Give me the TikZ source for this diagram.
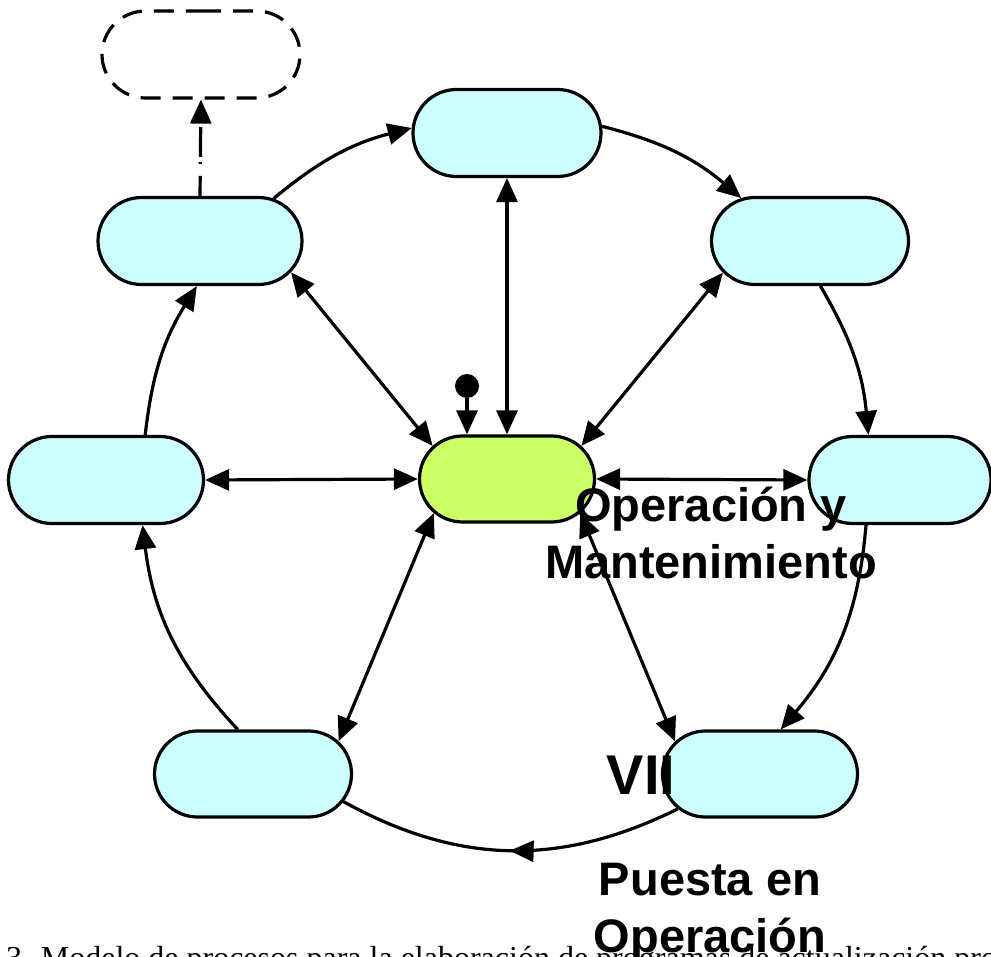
\documentclass[tikz,border=0pt]{standalone}
\usepackage{fontspec}
\setmainfont{Liberation Serif}
\newfontfamily\arialfont{Liberation Sans}
\usetikzlibrary{arrows.meta}
\usetikzlibrary{shapes.misc}
\usetikzlibrary{decorations.markings}

\definecolor{stagecyan}{HTML}{CCFFFF}
\definecolor{stagegreen}{HTML}{CCFF66}

\begin{document}
\begin{tikzpicture}[
    x=1pt, y=1pt,
    every node/.style={inner sep=0pt},
    stage/.style={draw, rounded rectangle, line width=3.2pt, fill=stagecyan, minimum width=196pt, minimum height=87pt},
    link/.style={draw, line width=3.2pt, -{Triangle[length=24pt,width=21pt]}},
    both/.style={draw, line width=3.2pt, {Triangle[length=24pt,width=21pt]}-{Triangle[length=24pt,width=21pt]}},
    ringmid/.style={draw, line width=3.2pt, postaction={decorate},
        decoration={markings, mark=at position 0.5 with {\arrow{Triangle[length=24pt,width=21pt]}}}},
    bigtext/.style={font=\arialfont\bfseries\fontsize{47}{57}\selectfont, align=center}
]
    \useasboundingbox (0,0) rectangle (991,-957);
    \clip (0,0) rectangle (991,-957);

    % Caption (cut by the page edge)
    \node[font=\fontsize{32}{38}\selectfont, anchor=base west] (caption) at (6,-968) {3. Modelo de procesos para la elaboración de programas de actualización pro};

    % Outer ring of stages
    \node[stage, minimum width=188pt] (top) at (507,-133) {};
    \node[stage, minimum width=204pt] (upleft) at (200,-241) {};
    \node[stage, minimum width=197pt] (upright) at (810,-241) {};
    \node[stage, minimum width=195pt] (left) at (106,-480) {};
    \node[stage, minimum width=182pt] (right) at (900,-480) {};
    \node[stage, minimum width=197pt, minimum height=86pt] (lowleft) at (253,-774) {};
    \node[stage, minimum width=195pt, minimum height=86pt] (lowright) at (760,-774) {};

    % Centre and goal
    \node[stage, fill=stagegreen, minimum width=175pt, minimum height=86pt] (hub) at (507,-479) {};
    \node[stage, fill=none, dash pattern=on 20pt off 12pt, minimum width=198pt] (goal) at (201,-54.5) {};
    \node[circle, fill, minimum size=24pt] (start) at (467,-386) {};

    % Ring: clockwise
    \draw[link] (top.4) to[bend left=13] (upright.148);
    \draw[link] (upright.-77) to[bend left=12.6] (right.125);
    \draw[link] (right.-127) to[bend left=17.8] (lowright.65);
    \draw[ringmid] (lowright.-157) to[bend left=27.6] (lowleft.-17);
    \draw[link] (lowleft.109) to[bend left=18] (left.-51);
    \draw[link] (left.49) to[bend left=12.7] (upleft.-94);
    \draw[link] (upleft.30) to[bend left=12.6] (top.177);

    % Spokes to the centre
    \draw[both] (hub.north) -- (top.south);
    \draw[both] (hub.24) -- (upright.200);
    \draw[both] (hub.east) -- (right.west);
    \draw[both] (hub.-25) -- (lowright.159);
    \draw[both] (hub.205) -- (lowleft.21);
    \draw[both] (hub.west) -- (left.east);
    \draw[both] (hub.156) -- (upleft.-19);

    % Start and goal
    \draw[link] (start) -- (start |- hub.north);
    \draw[link, dash pattern=on 20pt off 12pt on 2pt off 5pt on 30pt off 10pt] (upleft.north) -- (goal.south);

    % Labels
    \node[bigtext, anchor=base] (opmant) at (711,-578) {Operación y\\Mantenimiento};
    \node[font=\arialfont\bfseries\fontsize{56}{60}\selectfont, anchor=base] (phase) at (641,-794) {VII};
    \node[bigtext, anchor=base] (puesta) at (710,-952) {Puesta en\\Operación};
\end{tikzpicture}
\end{document}
